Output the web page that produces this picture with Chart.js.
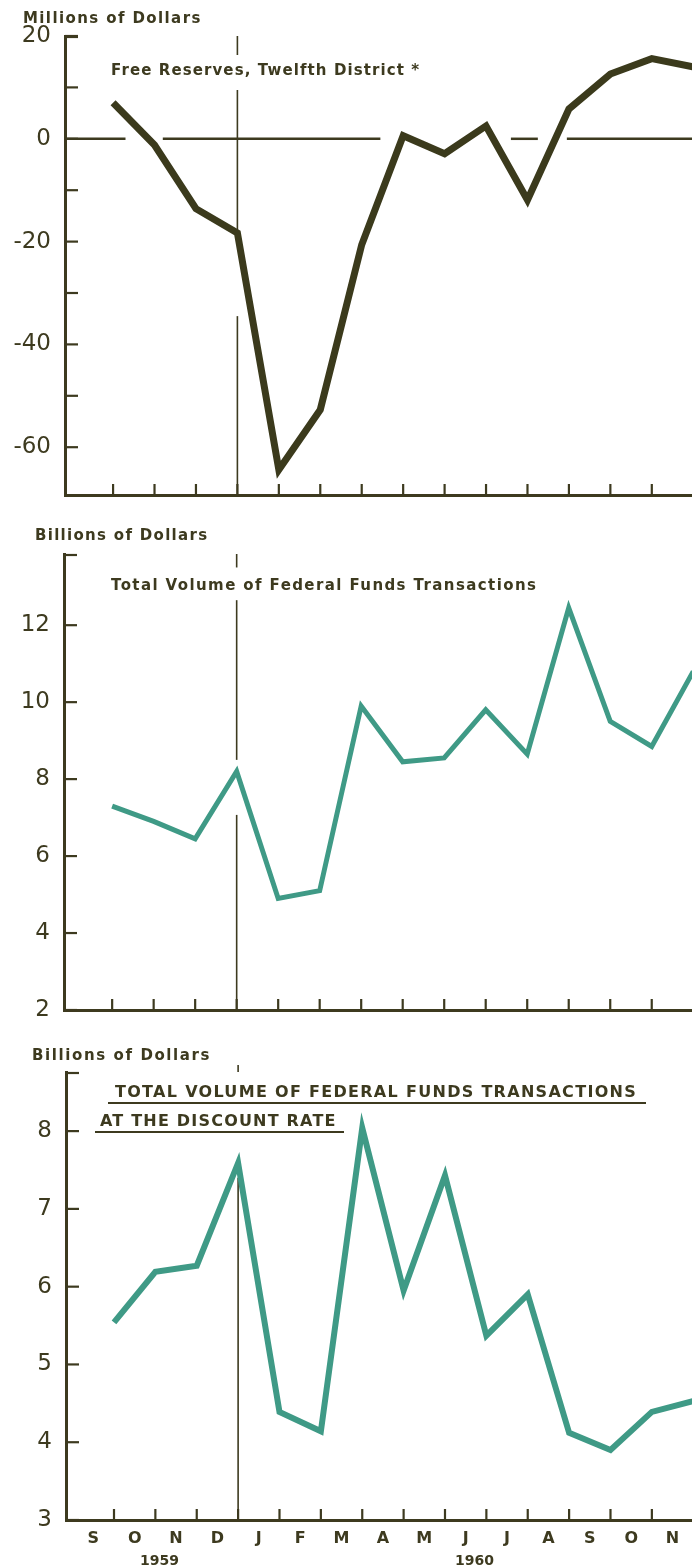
<!DOCTYPE html>
<html><head><meta charset="utf-8">
<script src="https://cdn.jsdelivr.net/npm/chart.js@4.4.1/dist/chart.umd.min.js"></script>
<style>
html,body{margin:0;padding:0;background:#fff;}
#wrap{position:relative;width:692px;height:1568px;overflow:hidden;background:#fff;}
canvas{position:absolute;left:0;}
.t{position:absolute;white-space:nowrap;font-family:"DejaVu Sans",sans-serif;font-weight:bold;color:#3d3a1f;line-height:1;}
.bg{background:#fff;}
.u{border-bottom:2px solid #3d3a1f;padding-bottom:2px;}
</style></head><body><div id="wrap">
<canvas id="c1" width="692" height="515" style="top:0"></canvas>
<canvas id="c2" width="692" height="515" style="top:515px"></canvas>
<canvas id="c3" width="692" height="538" style="top:1030px"></canvas>

<div class="t" style="left:23px;top:11px;font-size:15px;letter-spacing:1.4px">Millions of Dollars</div>
<div class="t" style="left:111px;top:63px;font-size:15px;letter-spacing:1.1px">Free Reserves, Twelfth District *</div>

<div class="t" style="left:35px;top:528px;font-size:15px;letter-spacing:1.3px">Billions of Dollars</div>
<div class="t" style="left:111px;top:578px;font-size:15px;letter-spacing:1.4px">Total Volume of Federal Funds Transactions</div>

<div class="t" style="left:32px;top:1048px;font-size:15px;letter-spacing:1.6px">Billions of Dollars</div>
<div class="t bg u" style="left:108px;top:1084px;font-size:16px;letter-spacing:1.3px;padding-left:7px;padding-right:9px">TOTAL VOLUME OF FEDERAL FUNDS TRANSACTIONS</div>
<div class="t bg u" style="left:95px;top:1113px;font-size:16px;letter-spacing:1.2px;padding-left:5px;padding-right:7px">AT THE DISCOUNT RATE</div>

<div class="t" style="left:140px;top:1553px;font-size:14px">1959</div>
<div class="t" style="left:455px;top:1553px;font-size:14px">1960</div>
</div>
<script>
// ---- data ----
const months = ['S','O','N','D','J','F','M','A','M','J','J','A','S','O','N'];
const years = ['1959','1960'];
// values plotted at the end of each month (Sep 1959 .. Nov 1960)
const freeReserves = [7, -1.2, -13.6, -18.3, -64.4, -52.7, -20.6, 0.6, -2.9, 2.5, -11.9, 5.8, 12.6, 15.6, 14.0];
const fedFundsTotal = [7.3, 6.9, 6.45, 8.2, 4.9, 5.1, 9.9, 8.45, 8.55, 9.8, 8.65, 12.45, 9.5, 8.85, 10.8];
const fedFundsDiscount = [5.54, 6.19, 6.27, 7.59, 4.39, 4.14, 8.04, 5.95, 7.43, 5.37, 5.9, 4.12, 3.9, 4.39, 4.53];
const yTicks1 = [20, 10, 0, -10, -20, -30, -40, -50, -60];
const yLabels1 = [20, 0, -20, -40, -60];
const yTicks2 = [12, 10, 8, 6, 4, 2];
const yTicks3 = [8, 7, 6, 5, 4, 3];
const yearBoundary = 4; // Dec/Jan

const INK = '#3d3a1f';
const OLIVE = '#3b3a1c';
const TEAL = '#3f9a86';

const innerTicks = {
  id: 'innerTicks',
  beforeDatasetsDraw(chart, args, o) {
    const {ctx, chartArea: a, scales: {x, y}} = chart;
    ctx.save();
    ctx.strokeStyle = INK;
    // zero line with gaps
    if (o.zeroGaps) {
      ctx.lineWidth = 2.5;
      const py = y.getPixelForValue(0);
      let start = a.left;
      const segs = [];
      o.zeroGaps.forEach(g => { segs.push([start, x.getPixelForValue(g[0])]); start = x.getPixelForValue(g[1]); });
      segs.push([start, a.right]);
      segs.forEach(s => { ctx.beginPath(); ctx.moveTo(s[0], py); ctx.lineTo(s[1], py); ctx.stroke(); });
    }
    // year boundary line with gaps
    ctx.lineWidth = 1.6;
    const bx = x.getPixelForValue(yearBoundary);
    let yStart = a.top - (o.refAbove || 0);
    const vsegs = [];
    (o.refGaps || []).forEach(g => { vsegs.push([yStart, y.getPixelForValue(g[0])]); yStart = y.getPixelForValue(g[1]); });
    vsegs.push([yStart, a.bottom]);
    vsegs.forEach(s => { ctx.beginPath(); ctx.moveTo(bx, s[0]); ctx.lineTo(bx, s[1]); ctx.stroke(); });
    // y ticks pointing inward
    ctx.lineWidth = 2.2;
    const ys = y.ticks.map(t => y.getPixelForValue(t.value)).concat([a.top + 1]);
    ys.forEach(py => { ctx.beginPath(); ctx.moveTo(a.left, py); ctx.lineTo(a.left + 13, py); ctx.stroke(); });
    // x ticks (month boundaries) pointing up
    for (let v = Math.ceil(x.min); v <= x.max; v++) {
      if (v <= 0) continue;
      const px = x.getPixelForValue(v);
      ctx.beginPath(); ctx.moveTo(px, a.bottom); ctx.lineTo(px, a.bottom - 11); ctx.stroke();
    }
    ctx.restore();
  }
};

function makeChart(id, values, color, lw, yMin, yMax, yTicks, yLabelFn, opts) {
  const pts = values.map((v, i) => ({x: i + 1, y: v}));
  return new Chart(document.getElementById(id), {
    type: 'line',
    data: {datasets: [{data: pts, borderColor: color, borderWidth: lw, pointRadius: 0, tension: 0, fill: false, borderJoinStyle: 'miter', borderCapStyle: 'butt'}]},
    options: {
      responsive: false, animation: false, events: [],
      layout: {padding: opts.padding},
      plugins: {legend: {display: false}, tooltip: {enabled: false},
                innerTicks: {refAbove: opts.refAbove, refGaps: opts.refGaps, zeroGaps: opts.zeroGaps}},
      scales: {
        x: {
          type: 'linear', min: -0.16, max: 14.97,
          border: {display: true, color: INK, width: 3},
          grid: {display: false, drawTicks: false},
          afterBuildTicks: s => { s.ticks = months.map((m, i) => ({value: i + 0.5})); },
          afterFit: s => { s.height = opts.xHeight; s.paddingLeft = 0; s.paddingRight = 0; },
          ticks: {display: opts.xLabels, autoSkip: false, maxRotation: 0, padding: 9, color: INK,
                  font: {family: 'DejaVu Sans', weight: 'bold', size: 16},
                  callback: (v, i) => months[i]}
        },
        y: {
          min: yMin, max: yMax,
          border: {display: true, color: INK, width: 3},
          grid: {display: false, drawTicks: false},
          afterBuildTicks: s => { s.ticks = yTicks.map(v => ({value: v})); },
          afterFit: s => { s.width = opts.yWidth; s.paddingTop = 0; s.paddingBottom = 0; },
          ticks: {padding: 14, color: INK, font: {family: 'DejaVu Sans', size: 23},
                  callback: yLabelFn}
        }
      }
    },
    plugins: [innerTicks]
  });
}

makeChart('c1', freeReserves, OLIVE, 7, -69.3, 20, yTicks1,
  v => yLabels1.includes(v) ? String(v) : '',
  {padding: {top: 36, bottom: 20, left: 0, right: 0}, xHeight: 0, xLabels: false, yWidth: 65,
   refAbove: 0, refGaps: [[16.3, 9.5], [-18.5, -34.5]],
   zeroGaps: [[1.3, 2.2], [7.45, 10.6], [11.25, 11.95]]});
makeChart('c2', fedFundsTotal, TEAL, 5, 2, 13.85, yTicks2,
  v => String(v),
  {padding: {top: 39, bottom: 20, left: 0, right: 0}, xHeight: 0, xLabels: false, yWidth: 64,
   refAbove: 0, refGaps: [[13.5, 12.65], [8.5, 7.07]]});
makeChart('c3', fedFundsDiscount, TEAL, 6, 3, 8.76, yTicks3,
  v => String(v),
  {padding: {top: 42, bottom: 0, left: 0, right: 0}, xHeight: 48, xLabels: true, yWidth: 66,
   refAbove: 7, refGaps: [[8.76, 7.4]]});
</script></body></html>
